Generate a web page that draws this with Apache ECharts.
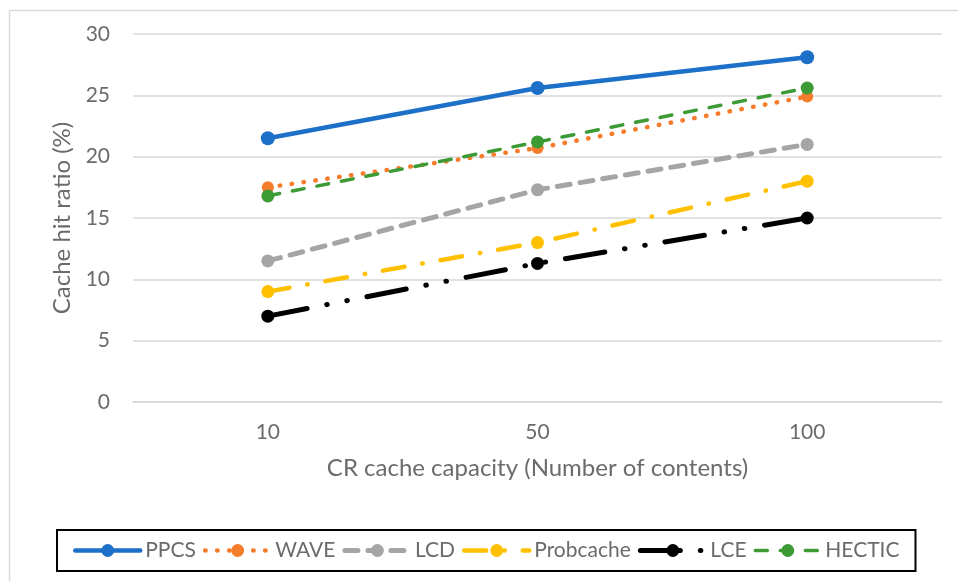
<!DOCTYPE html>
<html>
<head>
<meta charset="utf-8">
<script src="https://cdn.jsdelivr.net/npm/echarts@6/dist/echarts.min.js"></script>
<style>
    html, body { margin: 0; padding: 0; background: #fff; }
    #chart { width: 958px; height: 581px; }
</style>
</head>
<body>
<div id="chart"></div>
<script>
    'use strict';

    // CR cache capacity (number of contents)
    var capacities = ['10', '50', '100'];

    // cache hit ratio (%)
    var ppcs = [21.5, 25.6, 28.1];
    var wave = [17.5, 20.7, 24.9];
    var lcd = [11.5, 17.3, 21.0];
    var probcache = [9.0, 13.0, 18.0];
    var lce = [7.0, 11.3, 15.0];
    var hectic = [16.8, 21.2, 25.6];

    var textColor = '#6b6b6b';
    var fontFamily = 'Lato, "Open Sans", sans-serif';

    function makeSeries(name, data, color, width, dash, symbolSize) {
        return {
            name: name,
            type: 'line',
            data: data,
            symbol: 'circle',
            symbolSize: symbolSize,
            itemStyle: { color: color },
            lineStyle: { color: color, width: width, type: dash, cap: 'round' },
            emphasis: { disabled: true },
            z: 3
        };
    }

    var chart = echarts.init(document.getElementById('chart'));
    chart.setOption({
        animation: false,
        textStyle: { fontFamily: fontFamily },
        graphic: [{
            type: 'rect',
            shape: { x: 9.5, y: 10.5, width: 970, height: 600 },
            style: { fill: 'none', stroke: '#d9d9d9', lineWidth: 1.5 },
            silent: true
        }],
        grid: { left: 133, right: 16, top: 34, bottom: 179 },
        legend: {
            bottom: 10,
            left: 57,
            itemWidth: 65,
            itemHeight: 16,
            itemGap: 7,
            padding: [10, 16],
            borderColor: '#000',
            borderWidth: 2,
            lineStyle: { width: 'inherit' },
            textStyle: { color: textColor, fontSize: 21, fontFamily: fontFamily },
            data: ['PPCS', 'WAVE', 'LCD', 'Probcache', 'LCE', 'HECTIC']
        },
        xAxis: {
            type: 'category',
            data: capacities,
            name: 'CR cache capacity (Number of contents)',
            nameLocation: 'middle',
            nameGap: 54,
            nameTextStyle: { color: textColor, fontSize: 24 },
            axisLine: { lineStyle: { color: '#d9d9d9', width: 1.5 } },
            axisTick: { show: false },
            axisLabel: { color: textColor, fontSize: 21, margin: 20 }
        },
        yAxis: {
            type: 'value',
            min: 0,
            max: 30,
            interval: 5,
            name: 'Cache hit ratio (%)',
            nameLocation: 'middle',
            nameGap: 58,
            nameTextStyle: { color: textColor, fontSize: 24 },
            axisLine: { show: false },
            axisTick: { show: false },
            axisLabel: { color: textColor, fontSize: 21, margin: 23 },
            splitLine: { lineStyle: { color: '#d9d9d9', width: 1.5 } }
        },
        series: [
            makeSeries('PPCS', ppcs, '#1c70c8', 4.5, 'solid', 14),
            makeSeries('WAVE', wave, '#f57c2b', 4.5, [0.5, 11.5], 12),
            makeSeries('LCD', lcd, '#a5a5a5', 5, [13, 10], 13),
            makeSeries('Probcache', probcache, '#ffc000', 4.5, [22, 18, 0.5, 18], 13),
            makeSeries('LCE', lce, '#000000', 5, [40, 20, 0.5, 20, 0.5, 20], 13),
            makeSeries('HECTIC', hectic, '#3d9b35', 3.5, [12, 13], 13)
        ]
    });
</script>
</body>
</html>
